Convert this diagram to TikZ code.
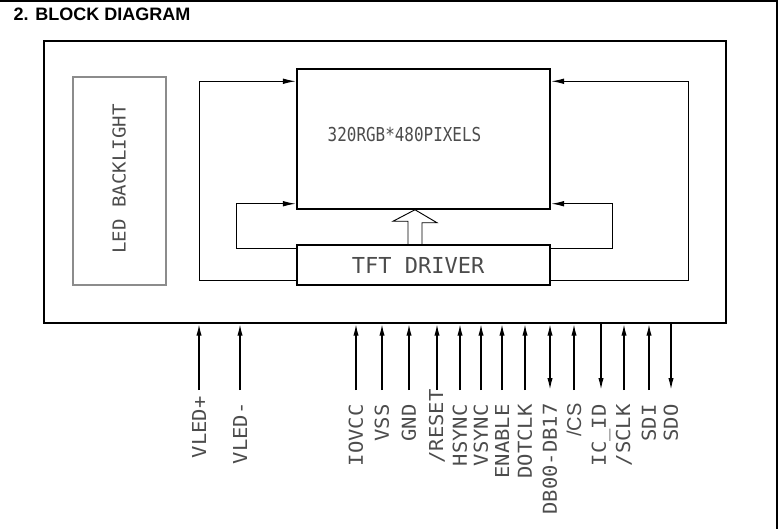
\documentclass[tikz,border=0pt]{standalone}
\usepackage{fontspec}
\setmainfont{Liberation Sans}
\newfontfamily\cadfont{DejaVu Sans Mono}
\newfontfamily\cadwide[FakeStretch=1.07]{DejaVu Sans Mono}
\newfontfamily\cadnarrow[FakeStretch=0.83]{DejaVu Sans Mono}
\newfontfamily\csfont{Liberation Sans}
\usetikzlibrary{arrows.meta,calc}

\begin{document}
\begin{tikzpicture}[x=0.75pt,y=-0.75pt,
    box/.style={draw,line width=1.1pt,inner sep=0pt},
    wire/.style={line width=1.1pt},
    sig/.style={wire,-{Latex[length=10pt,width=4.2pt]}},
    pinin/.style={wire,-{Latex[length=9pt,width=4pt]}},
    pinout/.style={wire,{Latex[length=9pt,width=4pt]}-},
    pinio/.style={wire,{Latex[length=9pt,width=4pt]}-{Latex[length=9pt,width=4pt]}},
    cad/.style={text=black!70,inner sep=0pt},
    pinlbl/.style={cad,rotate=90,anchor=east,font=\cadwide\fontsize{14.4}{16}\selectfont},
  ]
  \useasboundingbox (0,0) rectangle (778,529);

  % Sheet edge and heading
  \draw[line width=1.3pt] (0,1) -- (777,1) -- (777,529);
  \node[anchor=base west,font=\bfseries\fontsize{13.5}{16}\selectfont] (title) at (9,20) {2. BLOCK DIAGRAM};

  % Module outline
  \node[box,minimum width=511.5pt,minimum height=211.5pt] (module) at (385,182) {};

  % Backlight
  \node[draw=black!45,line width=0.8pt,inner sep=0pt,minimum width=69.75pt,minimum height=156pt] (backlight) at (119.5,181) {};
  \node[cad,rotate=90,font=\cadwide\fontsize{13.4}{15}\selectfont] (bltext) at (119,179) {LED BACKLIGHT};

  % Panel and driver
  \node[box,minimum width=189.75pt,minimum height=105pt] (panel) at (423.5,139) {};
  \node[cad,font=\cadnarrow\fontsize{14.4}{16}\selectfont] (pixtext) at (404.5,135) {320RGB*480PIXELS};
  \node[box,cad,draw=black,minimum width=189.75pt,minimum height=30pt,font=\cadfont\fontsize{16.5}{18}\selectfont] (driver) at (423.5,265) {TFT DRIVER\hspace*{8pt}};

  % Hollow data arrow
  \coordinate (tip) at ($(panel.south)+(-8.5,0)$);
  \draw[line width=0.7pt] ($(driver.north)+(-15.5,0)$) -- ++(0,-23) -- ++(-15,0) -- (tip) -- ++(22,13) -- ++(-15,0) -- ++(0,23);

  % Scan loops
  \draw[sig] ($(driver.south west)+(0,-5)$) -- ++(-97,0) |- ($(panel.north west)+(0,13)$);
  \draw[sig] ($(driver.north west)+(0,4)$) -- ++(-60,0) |- ($(panel.south west)+(0,-6)$);
  \draw[sig] ($(driver.south east)+(0,-5)$) -- ++(138,0) |- ($(panel.north east)+(0,13)$);
  \draw[sig] ($(driver.north east)+(0,4)$) -- ++(62,0) |- ($(panel.south east)+(0,-6)$);

  % Pins
  \foreach \px/\pinname/\pinarrow/\lend [count=\i] in {
      199/VLED+/pinin/396, 240/VLED-/pinin/402,
      356/IOVCC/pinin/404, 382/VSS/pinin/404, 409/GND/pinin/404,
      437/{/RESET}/pinin/389, 460/HSYNC/pinin/404, 481/VSYNC/pinin/404,
      502/ENABLE/pinin/404, 525/DOTCLK/pinin/404, 550/DB00-DB17/pinio/403,
      574/{\csfont\fontsize{15}{16}\selectfont /CS}/pinin/403, 601/IC\_ID/pinout/404,
      624/{/SCLK}/pinin/404, 649/SDI/pinin/404, 671/SDO/pinout/404} {
    \coordinate (pin\i) at (\px,390);
    \draw[\pinarrow] (pin\i) -- (pin\i |- module.south);
    \node[pinlbl] (lbl\i) at (\px,\lend) {\pinname};
  }
\end{tikzpicture}
\end{document}
